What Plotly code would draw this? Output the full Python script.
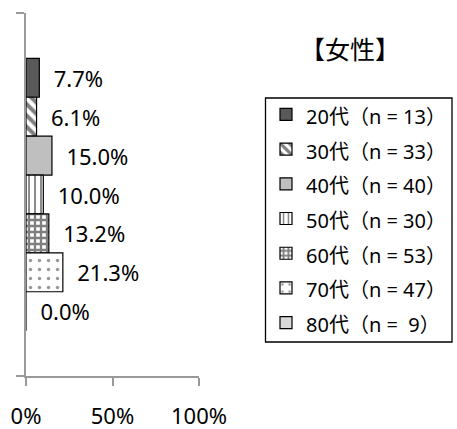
import plotly.graph_objects as go

groups = ["20代", "30代", "40代", "50代", "60代", "70代", "80代"]
counts = ["13", "33", "40", "30", "53", "47", "\u00a09"]
values = [0.077, 0.061, 0.150, 0.100, 0.132, 0.213, 0.000]
labels = ["7.7%", "6.1%", "15.0%", "10.0%", "13.2%", "21.3%", "0.0%"]
category = ["女性"]
title_text = "【女性】"
x_ticks = [0, 0.5, 1.0]
x_tick_labels = ["0%", "50%", "100%"]

styles = [
    dict(color="#595959", pattern=dict(shape="")),
    dict(color="white", pattern=dict(shape="\\", fgcolor="black", bgcolor="white", size=8, solidity=0.5)),
    dict(color="#bfbfbf", pattern=dict(shape="")),
    dict(color="white", pattern=dict(shape="|", fgcolor="black", bgcolor="white", size=6, solidity=0.3)),
    dict(color="white", pattern=dict(shape="+", fgcolor="black", bgcolor="white", size=6, solidity=0.62)),
    dict(color="white", pattern=dict(shape=".", fgcolor="#333", bgcolor="white", size=9, solidity=0.12)),
    dict(color="#d9d9d9", pattern=dict(shape="")),
]

FONT = "Noto Sans, Noto Sans CJK JP, sans-serif"

# plot area geometry (pixels)
L, R, T, B = 26, 199, 13, 376
W, H = 457, 429
pw, ph = R - L, B - T

def px(x):
    return (x - L) / pw

def py(y):
    return (B - y) / ph

fig = go.Figure()
for g, n, v, lab, st in zip(groups, counts, values, labels, styles):
    fig.add_trace(go.Bar(
        y=category, x=[v], orientation="h",
        name=f'<span style="font-size:20px">{g}（n = {n}）</span>',
        text=["\u00a0\u00a0" + lab], textposition="outside", constraintext="none",
        cliponaxis=False,
        textfont=dict(family=FONT, size=22, color="black"),
        marker=dict(color=st["color"], pattern=st["pattern"], line=dict(color="black", width=1.2)),
    ))

fig.update_layout(
    width=W, height=H,
    margin=dict(l=L, r=W - R, t=T, b=H - B, autoexpand=False),
    paper_bgcolor="white", plot_bgcolor="white",
    barmode="group", bargap=0.25, bargroupgap=0,
    font=dict(family=FONT, color="black"),
    showlegend=True,
    legend=dict(x=px(266), xanchor="left", y=py(92), yanchor="top",
                borderwidth=0, bgcolor="rgba(0,0,0,0)",
                font=dict(family=FONT, size=24.4, color="black"),
                traceorder="normal"),
    shapes=[dict(type="rect", xref="paper", yref="paper",
                 x0=px(265.5), x1=px(452), y0=py(98), y1=py(342),
                 line=dict(color="black", width=1.3), fillcolor="rgba(0,0,0,0)")],
    annotations=[dict(text=title_text, xref="paper", yref="paper", x=px(350), y=py(49),
                      xanchor="center", yanchor="middle", showarrow=False,
                      font=dict(family=FONT, size=25, color="black"))],
    xaxis=dict(range=[0, 1], tickvals=x_ticks, ticktext=x_tick_labels, automargin=False,
               showgrid=False, zeroline=False, showline=True, linecolor="#999", linewidth=1.5,
               ticks="outside", ticklen=8, tickcolor="#999", tickwidth=1.5,
               ticklabelstandoff=12,
               tickfont=dict(family=FONT, size=22, color="black")),
    yaxis=dict(autorange="reversed", showgrid=False, zeroline=False, showline=True, automargin=False,
               linecolor="#999", linewidth=1.5, ticks="outside", ticklen=8, tickcolor="#999",
               tickwidth=1.5, tickson="boundaries", showticklabels=False),
)

fig.write_html("out.html", config={"displayModeBar": False},
               post_script="document.body.style.margin='0';document.body.style.overflow='hidden';")
